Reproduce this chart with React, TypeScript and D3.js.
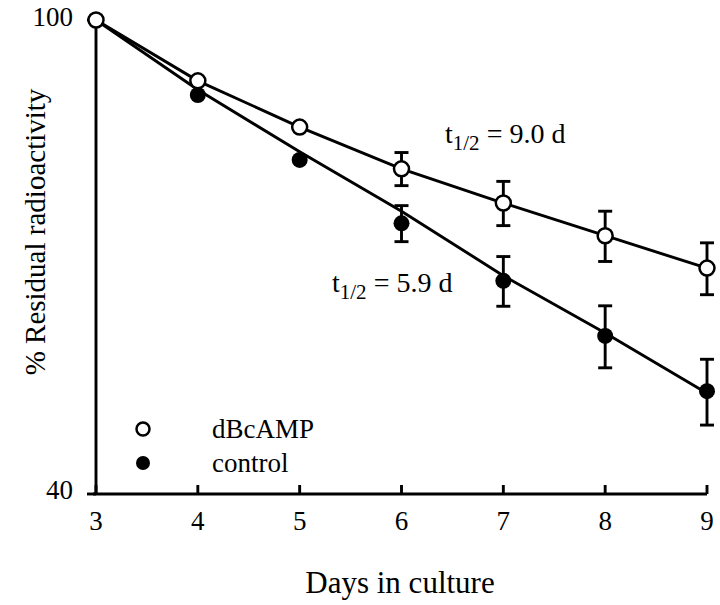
import React from "react";
import * as d3 from "d3";

const days = [3, 4, 5, 6, 7, 8, 9];
const dbcampValues = [100, 88.9, 81.3, 75.0, 70.2, 65.9, 61.9];
const dbcampErrors = [0, 0, 0, 2.4, 3.0, 3.2, 3.1];
const controlValues = [100, 86.5, 76.3, 67.5, 60.4, 54.3, 48.8];
const controlErrors = [0, 0, 0, 2.35, 2.9, 3.25, 3.1];
const dbcampFit = [100, 88.9, 81.3, 75.0, 70.2, 65.9, 61.9];
const controlFit = [100, 87.4, 77.5, 69.1, 61.0, 54.6, 48.6];
const xTicks = [3, 4, 5, 6, 7, 8, 9];
const yTicks = [40, 100];
const legendLabels = ["dBcAMP", "control"];
const halfLives = ["9.0", "5.9"];

const FONT = "'Liberation Serif', 'Times New Roman', serif";

export default function App() {
  const x = d3.scaleLinear().domain([3, 9]).range([96, 707]);
  const y = d3.scaleLog().domain([40, 100]).range([494, 20]);
  const line = d3
    .line<number>()
    .x((_, i) => x(days[i]))
    .y((v) => y(v));

  const sw = 2.9;

  const errBars = (vals: number[], errs: number[], key: string) =>
    vals.map((v, i) =>
      errs[i] > 0 ? (
        <g key={key + i} stroke="#000" strokeWidth={sw}>
          <line x1={x(days[i])} x2={x(days[i])} y1={y(v + errs[i])} y2={y(v - errs[i])} />
          <line x1={x(days[i]) - 7} x2={x(days[i]) + 7} y1={y(v + errs[i])} y2={y(v + errs[i])} />
          <line x1={x(days[i]) - 7} x2={x(days[i]) + 7} y1={y(v - errs[i])} y2={y(v - errs[i])} />
        </g>
      ) : null
    );

  return (
    <svg
      width={720}
      height={605}
      style={{ position: "absolute", left: 0, top: 0, background: "#fff" }}
      fontFamily={FONT}
    >
      <rect x={0} y={0} width={720} height={605} fill="#fff" />
      {/* axes */}
      <line x1={x(3)} x2={x(3)} y1={y(100)} y2={y(40)} stroke="#000" strokeWidth={sw} />
      <line x1={x(3) - 3} x2={x(9)} y1={y(40)} y2={y(40)} stroke="#000" strokeWidth={sw} />
      {yTicks.map((t) => (
        <g key={"yt" + t}>
          <line x1={x(3) - 9} x2={x(3)} y1={y(t)} y2={y(t)} stroke="#000" strokeWidth={sw} />
          <text x={73} y={y(t) + (t === 100 ? 6 : 5)} textAnchor="end" fontSize={27}>
            {t}
          </text>
        </g>
      ))}
      {xTicks.map((t) => (
        <g key={"xt" + t}>
          <line x1={x(t)} x2={x(t)} y1={y(40)} y2={y(40) - 9} stroke="#000" strokeWidth={sw} />
          <text x={x(t)} y={530} textAnchor="middle" fontSize={27}>
            {t}
          </text>
        </g>
      ))}
      <text x={400} y={593} textAnchor="middle" fontSize={31}>
        Days in culture
      </text>
      <text
        transform="translate(45,232) rotate(-90)"
        textAnchor="middle"
        fontSize={29}
      >
        % Residual radioactivity
      </text>

      {/* fit lines */}
      <path d={line(dbcampFit) || ""} fill="none" stroke="#000" strokeWidth={sw} />
      <path d={line(controlFit) || ""} fill="none" stroke="#000" strokeWidth={sw} />

      {/* error bars */}
      {errBars(dbcampValues, dbcampErrors, "eo")}
      {errBars(controlValues, controlErrors, "ec")}

      {/* markers */}
      {controlValues.map((v, i) => (
        <circle key={"c" + i} cx={x(days[i])} cy={y(v)} r={8} fill="#000" />
      ))}
      {dbcampValues.map((v, i) => (
        <circle
          key={"o" + i}
          cx={x(days[i])}
          cy={y(v)}
          r={7.5}
          fill="#fff"
          stroke="#000"
          strokeWidth={2.5}
        />
      ))}

      {/* annotations */}
      <text x={445} y={143} fontSize={28}>
        t
        <tspan fontSize={21} dy={7}>1/2</tspan>
        <tspan dy={-7}>{" = " + halfLives[0] + " d"}</tspan>
      </text>
      <text x={332} y={292} fontSize={28}>
        t
        <tspan fontSize={21} dy={7}>1/2</tspan>
        <tspan dy={-7}>{" = " + halfLives[1] + " d"}</tspan>
      </text>

      {/* legend */}
      <circle cx={143} cy={429} r={6.5} fill="#fff" stroke="#000" strokeWidth={2.5} />
      <text x={212} y={438} fontSize={27}>
        {legendLabels[0]}
      </text>
      <circle cx={143} cy={463} r={7} fill="#000" />
      <text x={212} y={472} fontSize={27}>
        {legendLabels[1]}
      </text>
    </svg>
  );
}
